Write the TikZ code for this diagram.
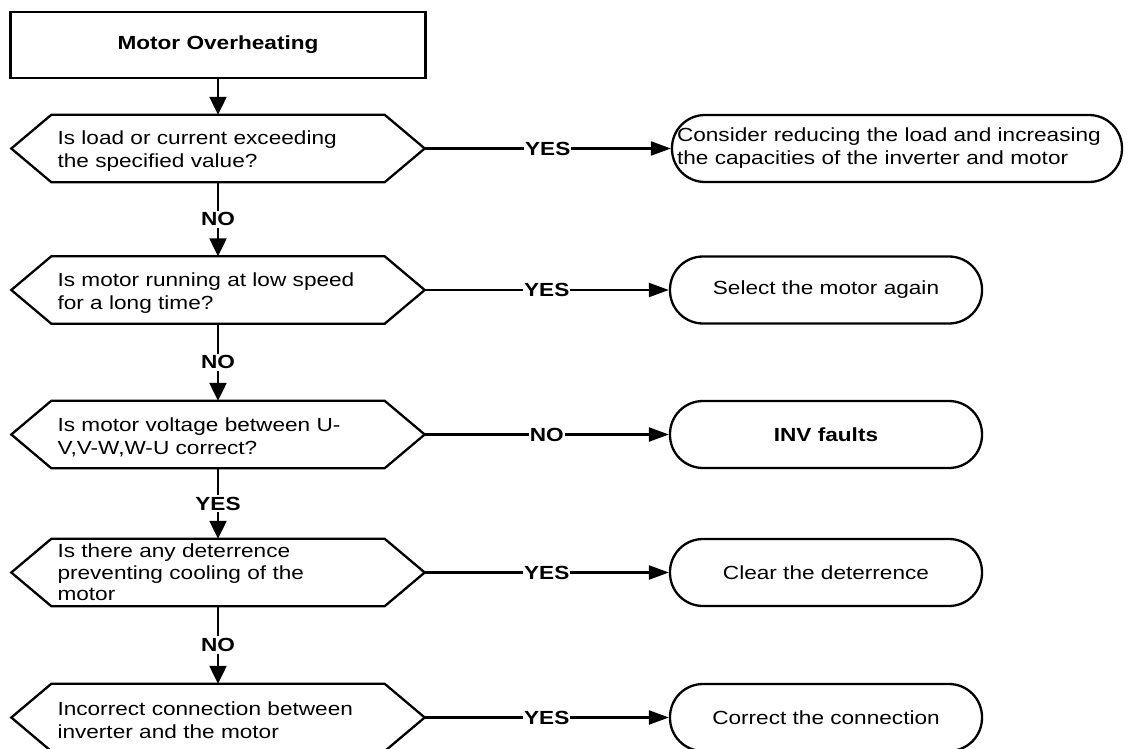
\documentclass[tikz,border=0pt]{standalone}
\usepackage{fontspec}
\setmainfont{Liberation Sans}[FakeStretch=1.19]
\usetikzlibrary{arrows.meta}
\begin{document}
\begin{tikzpicture}[x=1pt,y=-1pt,
  every node/.style={font=\fontsize{19}{23}\selectfont},
  ln/.style={line width=2.3pt},
  hexnode/.style={minimum width=413pt, minimum height=67pt, inner xsep=0pt, inner ysep=0pt, text width=321pt, align=left},
  lowtext/.style={execute at begin node={\rule{0pt}{19.5pt}}},
  pill/.style={draw, line width=2.3pt, rounded corners=33pt, minimum width=312pt, minimum height=67pt, align=center},
  harr/.style={line width=2.3pt, -{Triangle[length=20pt,width=14pt]}},
  varr/.style={line width=2.3pt, -{Triangle[length=18pt,width=17pt]}},
  lab/.style={fill=white, inner xsep=1pt, inner ysep=2pt, font=\fontsize{19}{23}\selectfont\bfseries}
]
\useasboundingbox (0,0) rectangle (1128,749);

\node[draw, line width=2.3pt, minimum width=415pt, minimum height=66pt, font=\fontsize{19}{23}\selectfont\bfseries] (start) at (218,45) {Motor Overheating};

\node[hexnode, lowtext] (h1) at (218,148.5) {Is load or current exceeding\\the specified value?};
\node[hexnode, lowtext] (h2) at (218,290) {Is motor running at low speed\\for a long time?};
\node[hexnode, lowtext] (h3) at (218,434.5) {Is motor voltage between U-\\V,V-W,W-U correct?};
\node[hexnode, font=\fontsize{19}{21.5}\selectfont] (h4) at (218,572.5) {Is there any deterrence\\preventing cooling of the\\motor};
\node[hexnode, lowtext] (h5) at (218,717.5) {Incorrect connection between\\inverter and the motor};

\foreach \n in {h1,h2,h3,h4,h5}
  \draw[ln, line join=miter] (\n.west) -- ([xshift=40pt]\n.north west) -- ([xshift=-40pt]\n.north east) -- (\n.east) -- ([xshift=-40pt]\n.south east) -- ([xshift=40pt]\n.south west) -- cycle;

\node[pill, minimum width=450pt, text width=440pt, inner xsep=4pt, align=left] (r1) at (897,148.5) {Consider reducing the load and increasing\\the capacities of the inverter and motor};
\node[pill] (r2) at (826,290) {Select the motor again};
\node[pill, font=\fontsize{19}{23}\selectfont\bfseries] (r3) at (826,434.5) {INV faults};
\node[pill] (r4) at (826,572.5) {Clear the deterrence};
\node[pill] (r5) at (826,717.5) {Correct the connection};

\draw[varr] (start.south) -- (h1.north);
\draw[varr] (h1.south) -- node[lab]{NO} (h2.north);
\draw[varr] (h2.south) -- node[lab]{NO} (h3.north);
\draw[varr] (h3.south) -- node[lab]{YES} (h4.north);
\draw[varr] (h4.south) -- node[lab]{NO} (h5.north);

\draw[harr] (h1.east) -- node[lab]{YES} (r1.west);
\draw[harr] (h2.east) -- node[lab]{YES} (r2.west);
\draw[harr] (h3.east) -- node[lab]{NO} (r3.west);
\draw[harr] (h4.east) -- node[lab]{YES} (r4.west);
\draw[harr] (h5.east) -- node[lab]{YES} (r5.west);
\end{tikzpicture}
\end{document}
